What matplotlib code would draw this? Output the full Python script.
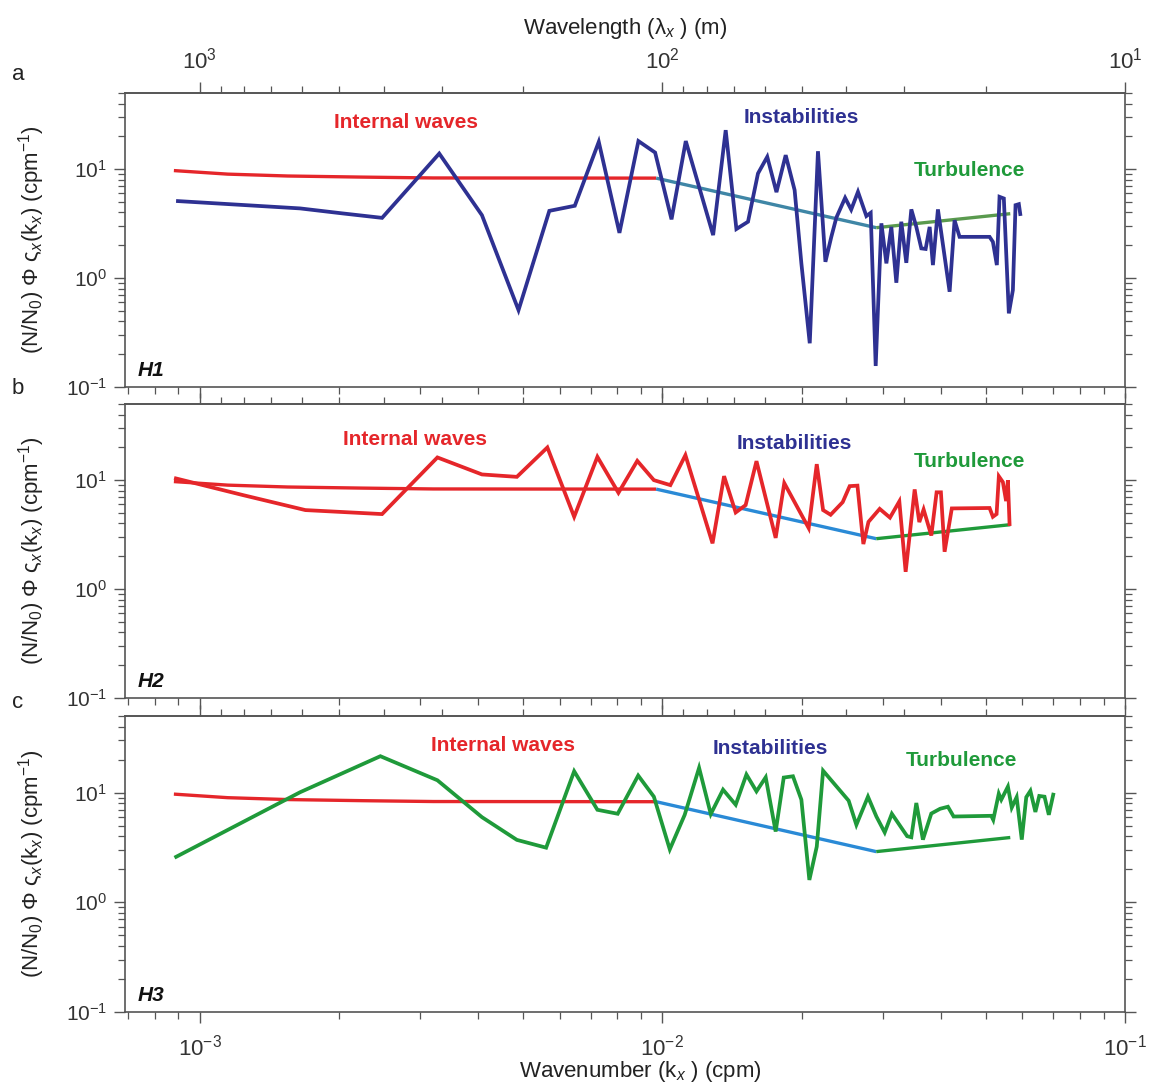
import matplotlib
matplotlib.use("Agg")
import matplotlib.pyplot as plt
from matplotlib import font_manager
from matplotlib.ticker import LogLocator, LogFormatterMathtext, NullFormatter, FixedLocator

names = {f.name for f in font_manager.fontManager.ttflist}
NARROW = "Liberation Sans Narrow" if "Liberation Sans Narrow" in names else "Liberation Sans"
SANS = "Liberation Sans"

plt.rcParams["font.family"] = [SANS, "DejaVu Sans"]
plt.rcParams["mathtext.fontset"] = "custom"
plt.rcParams["mathtext.rm"] = NARROW
plt.rcParams["mathtext.it"] = NARROW + ":italic"
plt.rcParams["mathtext.bf"] = NARROW + ":bold"

# ---------------- data ----------------
# model spectrum (same in all panels)
iw_k = [8.8e-4, 1.15e-3, 1.55e-3, 2.25e-3, 3.2e-3, 9.7e-3]
iw_v = [9.7, 9.0, 8.65, 8.45, 8.3, 8.27]
inst_k = [9.7e-3, 0.029]
inst_v = [8.27, 2.9]
turb_k = [0.029, 0.0565]
turb_v = [2.9, 3.9]

# H1 observed spectrum
h1_k = [8.98e-4, 1.649e-3, 2.04e-3, 2.48e-3, 3.296e-3, 4.076e-3, 4.89e-3, 5.70e-3, 6.47e-3,
        7.29e-3, 8.08e-3, 8.88e-3, 9.65e-3, 0.01047, 0.01124, 0.01288, 0.01371, 0.01446,
        0.01532, 0.01610, 0.01686, 0.01765, 0.01848, 0.01932, 0.01998, 0.02083, 0.02170,
        0.02252, 0.02319, 0.02378, 0.02484, 0.02560, 0.02648, 0.02761, 0.02821, 0.02892,
        0.02975, 0.03050, 0.03126, 0.03205, 0.03285, 0.03368, 0.03453, 0.03540, 0.03629,
        0.03708, 0.03783, 0.03845, 0.03942, 0.04178, 0.04282, 0.04390, 0.05097, 0.05182,
        0.05285, 0.05356, 0.05472, 0.05610, 0.05724, 0.05800, 0.05896, 0.05938]
h1_v = [5.09, 4.36, 3.92, 3.57, 13.9, 3.78, 0.508, 4.14, 4.61, 17.8, 2.60, 18.1, 14.2, 3.46,
        18.1, 2.48, 22.8, 2.82, 3.29, 9.13, 12.97, 6.15, 13.44, 6.42, 1.364, 0.252, 14.6, 1.41,
        2.39, 3.59, 5.45, 4.25, 6.19, 3.71, 3.97, 0.156, 3.18, 1.364, 2.95, 0.906, 3.29, 1.38,
        4.27, 2.95, 1.873, 1.85, 2.95, 1.316, 4.27, 0.749, 3.40, 2.39, 2.39, 2.15, 1.316, 5.57,
        5.38, 0.474, 0.776, 4.67, 4.77, 3.87]

# H2 observed spectrum
h2_k = [8.89e-4, 1.241e-3, 1.693e-3, 2.48e-3, 3.266e-3, 4.076e-3, 4.85e-3, 5.645e-3, 6.45e-3,
        7.24e-3, 8.04e-3, 8.83e-3, 9.59e-3, 0.01041, 0.01122, 0.01284, 0.01360, 0.01441,
        0.01514, 0.01598, 0.01758, 0.01835, 0.02072, 0.02157, 0.02226, 0.02311, 0.02454,
        0.02541, 0.02641, 0.02720, 0.02790, 0.02950, 0.03105, 0.03253, 0.03357, 0.03511,
        0.03593, 0.03671, 0.03814, 0.03916, 0.04001, 0.04075, 0.04224, 0.05097, 0.05182,
        0.05278, 0.05338, 0.05446, 0.05534, 0.05584, 0.05630]
h2_v = [10.37, 7.29, 5.31, 4.88, 16.16, 11.28, 10.72, 19.95, 4.61, 16.36, 7.65, 15.03, 10.0,
        9.0, 16.96, 2.63, 10.88, 5.05, 5.90, 14.94, 2.95, 9.39, 3.63, 14.02, 5.31, 4.81, 6.28,
        8.81, 8.90, 2.59, 4.14, 5.45, 4.53, 6.38, 1.44, 8.22, 4.12, 5.38, 3.10, 7.73, 7.73,
        2.20, 5.50, 5.55, 4.61, 4.88, 10.84, 9.59, 6.42, 10.0, 3.95]

# H3 observed spectrum
h3_k = [8.90e-4, 1.65e-3, 2.459e-3, 3.266e-3, 4.076e-3, 4.85e-3, 5.61e-3, 6.45e-3, 7.24e-3,
        8.01e-3, 8.87e-3, 9.59e-3, 0.01038, 0.01118, 0.01201, 0.01273, 0.01353, 0.01441,
        0.01520, 0.01598, 0.01673, 0.01758, 0.01830, 0.01916, 0.01998, 0.02079, 0.02157,
        0.02226, 0.02528, 0.02627, 0.02783, 0.02902, 0.03025, 0.03134, 0.03382, 0.03453,
        0.03540, 0.03658, 0.03814, 0.03985, 0.04143, 0.04262, 0.05140, 0.05191, 0.05336,
        0.05403, 0.05584, 0.05692, 0.05832, 0.05983, 0.06118, 0.06245, 0.06402, 0.06527,
        0.06700, 0.06845, 0.06997]
h3_v = [2.60, 10.1, 21.5, 12.97, 5.98, 3.71, 3.15, 15.68, 6.98, 6.42, 14.32, 9.19, 3.04, 6.28,
        16.85, 6.38, 10.65, 7.76, 14.63, 10.28, 13.81, 4.42, 13.73, 14.11, 8.63, 1.60, 3.22,
        15.85, 8.45, 5.09, 9.19, 6.06, 4.34, 6.42, 4.01, 3.92, 8.05, 3.73, 6.45, 7.13, 7.44,
        6.06, 6.15, 5.65, 9.79, 8.63, 11.35, 7.31, 9.09, 3.73, 9.09, 10.39, 6.67, 9.33, 9.19,
        6.28, 9.59]

# wavelength ticks of the top axis (m)
wl_major = [1000, 100, 10]
wl_minor = [900, 800, 700, 600, 500, 400, 300, 200, 90, 80, 70, 60, 50, 40, 30, 20]

panel_letters = ["a", "b", "c"]
site_names = ["H1", "H2", "H3"]
region_labels = ["Internal waves", "Instabilities", "Turbulence"]

# ---------------- style ----------------
RED = "#e5262a"
NAVY = "#2e3192"
GREEN = "#1f9a3a"
BLUE = "#2a8ad6"
AX_COL = "#555555"

W, H = 1149, 1085
fig = plt.figure(figsize=(W / 100, H / 100), dpi=100)

left = 125 / W
width = 1000 / W
panel_px = [(93, 387), (404, 698), (716, 1012)]

series = [(h1_k, h1_v, NAVY), (h2_k, h2_v, RED), (h3_k, h3_v, GREEN)]
model_cols = [("#e5262a", "#3f86a6", "#5a9a4e"), (RED, BLUE, GREEN), (RED, BLUE, GREEN)]
label_pos = [
    [(0.281, 0.898), (0.676, 0.918), (0.844, 0.738)],
    [(0.290, 0.878), (0.669, 0.867), (0.844, 0.806)],
    [(0.378, 0.901), (0.645, 0.891), (0.836, 0.850)],
]
label_cols = [RED, NAVY, GREEN]
letter_y = [75, 388, 703]

inv = lambda x: 1.0 / x

for i, (top, bot) in enumerate(panel_px):
    ax = fig.add_axes([left, (H - bot) / H, width, (bot - top) / H])
    ax.set_xscale("log")
    ax.set_yscale("log")
    ax.set_xlim(6.9e-4, 0.1)
    ax.set_ylim(0.1, 50)

    c_iw, c_in, c_tu = model_cols[i]
    ax.plot(iw_k, iw_v, color=c_iw, lw=2.4, solid_capstyle="butt", zorder=2)
    ax.plot(inst_k, inst_v, color=c_in, lw=2.4, solid_capstyle="butt", zorder=2)
    ax.plot(turb_k, turb_v, color=c_tu, lw=2.4, solid_capstyle="butt", zorder=2)
    k, v, col = series[i]
    ax.plot(k, v, color=col, lw=2.7, solid_joinstyle="miter", zorder=3)

    for spine in ax.spines.values():
        spine.set_color(AX_COL)
        spine.set_linewidth(1.2)

    ax.xaxis.set_major_locator(LogLocator(base=10, numticks=10))
    ax.xaxis.set_minor_locator(LogLocator(base=10, subs=range(2, 10), numticks=10))
    ax.yaxis.set_major_locator(LogLocator(base=10, numticks=10))
    ax.yaxis.set_minor_locator(LogLocator(base=10, subs=range(2, 10), numticks=10))
    ax.yaxis.set_major_formatter(LogFormatterMathtext())
    ax.xaxis.set_major_formatter(LogFormatterMathtext())
    ax.xaxis.set_minor_formatter(NullFormatter())
    ax.yaxis.set_minor_formatter(NullFormatter())

    ax.tick_params(which="both", direction="out", color=AX_COL, top=False, right=True,
                   bottom=True, left=True, labelright=False)
    ax.tick_params(which="major", length=8, width=1.0)
    ax.tick_params(which="minor", length=5, width=0.9)
    ax.tick_params(axis="y", labelsize=15, labelcolor="#333333", pad=5)
    ax.tick_params(axis="x", labelsize=16, labelcolor="#333333", pad=8,
                   labelbottom=(i == 2))

    sec = ax.secondary_xaxis("top", functions=(inv, inv))
    sec.xaxis.set_major_locator(FixedLocator(wl_major))
    sec.xaxis.set_minor_locator(FixedLocator(wl_minor))
    sec.xaxis.set_major_formatter(LogFormatterMathtext())
    sec.xaxis.set_minor_formatter(NullFormatter())
    sec.tick_params(which="both", direction="out", color=AX_COL)
    sec.tick_params(which="major", length=8, width=1.0)
    sec.tick_params(which="minor", length=5, width=0.9)
    sec.tick_params(axis="x", labelsize=16, labelcolor="#333333", pad=6, labeltop=(i == 0))
    sec.spines["top"].set_color(AX_COL)
    sec.spines["top"].set_linewidth(1.2)
    if i == 0:
        sec.set_xlabel("Wavelength (λ$_x$ ) (m)", fontsize=16, family=[NARROW, "DejaVu Sans"],
                       color="#222222", labelpad=10)
    if i == 2:
        ax.set_xlabel("Wavenumber (k$_x$ ) (cpm)", fontsize=16, family=[NARROW, "DejaVu Sans"],
                      color="#222222", labelpad=0)
        ax.xaxis.set_label_coords(0.515, -0.16)

    ax.set_ylabel("(N/N$_0$) Φ ς$_x$(k$_x$) (cpm$^{-1}$)", fontsize=16,
                  family=[SANS, "DejaVu Sans"], color="#222222")
    ax.yaxis.set_label_coords(-0.078, 0.5)

    for j, txt in enumerate(region_labels):
        x, y = label_pos[i][j]
        ax.text(x, y, txt, transform=ax.transAxes, ha="center", va="center",
                fontsize=15, fontweight="bold", color=label_cols[j], zorder=5)

    ax.text(0.013, 0.055, site_names[i], transform=ax.transAxes, ha="left", va="center",
            fontsize=15, fontweight="bold", fontstyle="italic", color="#111111")

    fig.text(12 / W, 1 - letter_y[i] / H, panel_letters[i], ha="left", va="center",
             fontsize=16, color="#222222")

fig.savefig("out.png", dpi=100)
